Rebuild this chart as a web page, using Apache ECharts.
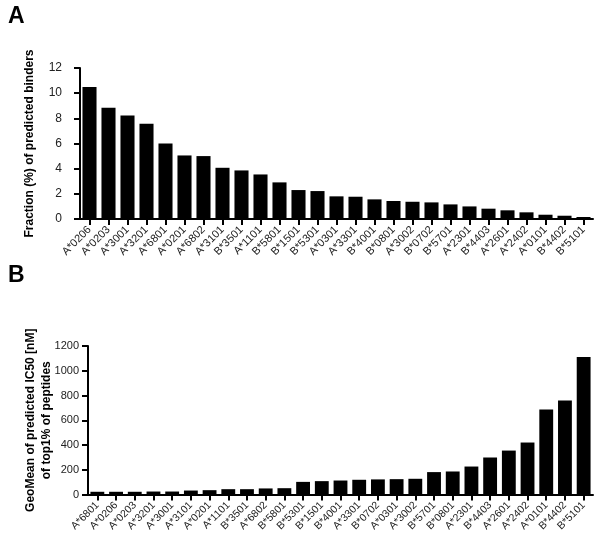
<!DOCTYPE html>
<html><head><meta charset="utf-8">
<script src="https://cdn.jsdelivr.net/npm/echarts@6/dist/echarts.min.js"></script>
<style>html,body{margin:0;padding:0;background:#fff}#c{width:600px;height:544px}</style>
</head><body><div id="c"></div>
<script>
const catsA = ['A*0206','A*0203','A*3001','A*3201','A*6801','A*0201','A*6802','A*3101','B*3501','A*1101','B*5801','B*1501','B*5301','A*0301','A*3301','B*4001','B*0801','A*3002','B*0702','B*5701','A*2301','B*4403','A*2601','A*2402','A*0101','B*4402','B*5101'];
const valsA = [10.5,8.85,8.22,7.56,6.0,5.05,5.0,4.07,3.86,3.54,2.91,2.3,2.22,1.8,1.77,1.56,1.43,1.37,1.32,1.16,1.0,0.82,0.69,0.53,0.34,0.26,0.16];
const catsB = ['A*6801','A*0206','A*0203','A*3201','A*3001','A*3101','A*0201','A*1101','B*3501','A*6802','B*5801','B*5301','B*1501','B*4001','A*3301','B*0702','A*0301','A*3002','B*5701','B*0801','A*2301','B*4403','A*2601','A*2402','A*0101','B*4402','B*5101'];
const valsB = [22,22,22,24,24,32,35,43,43,49,51,102,108,113,119,122,124,127,181,186,226,299,355,420,686,759,1111];
const yTicksA = {min:0,max:12,interval:2};
const yTicksB = {min:0,max:1200,interval:200};
const yNameA = 'Fraction (%) of predicted binders';
const yNameB = 'GeoMean of predicted IC50 [nM]\nof top1% of peptides';

const font = 'Liberation Sans, Arial, sans-serif';
const axisLine = {show:true,lineStyle:{color:'#000',width:2}};
const axisTick = {show:true,length:6,lineStyle:{color:'#000',width:2}};
function xAxis(idx, cats, fs){
  return {type:'category',gridIndex:idx,data:cats,axisLine,axisTick:Object.assign({alignWithLabel:true},axisTick),
    axisLabel:{rotate:45,fontSize:fs,color:'#222',fontFamily:font,margin:9,interval:0},splitLine:{show:false}};
}
function yAxis(idx, t, name, gap, lm, fs){
  return {type:'value',gridIndex:idx,min:t.min,max:t.max,interval:t.interval,axisLine,axisTick,
    splitLine:{show:false},
    axisLabel:{fontSize:fs,color:'#222',fontFamily:font,margin:lm,formatter:v=>String(v)},
    name:name,nameLocation:'middle',nameGap:gap,nameRotate:90,nameMoveOverlap:false,
    nameTextStyle:{fontSize:12,fontWeight:'bold',color:'#000',fontFamily:font,lineHeight:16}};
}
const chart = echarts.init(document.getElementById('c'),null,{renderer:'canvas'});
chart.setOption({
  animation:false,
  backgroundColor:'#fff',
  graphic:[
    {type:'text',left:8,top:5,style:{text:'A',font:'bold 23px '+font,fill:'#000'}},
    {type:'text',left:8,top:264,style:{text:'B',font:'bold 23px '+font,fill:'#000'}}
  ],
  grid:[
    {left:80,right:7,top:68,height:151,containLabel:false},
    {left:88,right:7,top:346,height:148.5,containLabel:false}
  ],
  xAxis:[xAxis(0,catsA,11),xAxis(1,catsB,10.5)],
  yAxis:[yAxis(0,yTicksA,yNameA,42,18,12),yAxis(1,yTicksB,yNameB,33,9,11)],
  series:[
    {type:'bar',xAxisIndex:0,yAxisIndex:0,data:valsA,barWidth:'74%',itemStyle:{color:'#000'}},
    {type:'bar',xAxisIndex:1,yAxisIndex:1,data:valsB,barWidth:'74%',itemStyle:{color:'#000'}}
  ]
});
</script></body></html>
